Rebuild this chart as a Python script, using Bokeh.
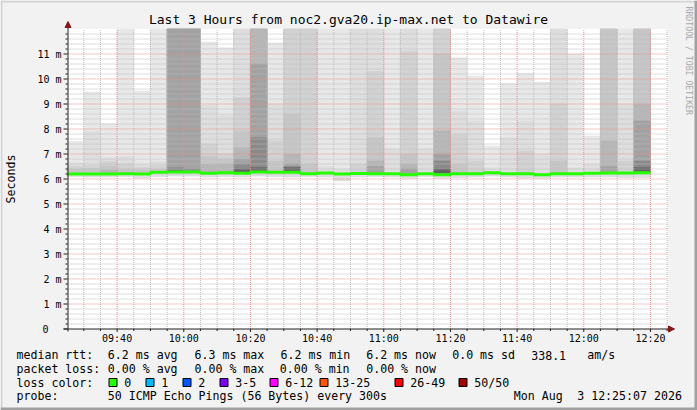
import math
from bokeh.plotting import figure
from bokeh.models import Range1d
from bokeh.core.properties import value
from bokeh.embed import file_html
from bokeh.resources import INLINE

# ---------------- data ----------------
title_text = "Last 3 Hours from noc2.gva20.ip-max.net to Datawire"
graph_start = "09:25:07"

bar_start = ["09:25", "09:30", "09:35", "09:40", "09:45", "09:50", "09:55",
             "10:00", "10:05", "10:10", "10:15", "10:20", "10:25", "10:30",
             "10:35", "10:40", "10:45", "10:50", "10:55", "11:00", "11:05",
             "11:10", "11:15", "11:20", "11:25", "11:30", "11:35", "11:40",
             "11:45", "11:50", "11:55", "12:00", "12:05", "12:10", "12:15"]

median_ms = [6.20, 6.20, 6.20, 6.21, 6.20, 6.27, 6.28, 6.28, 6.23, 6.25,
             6.23, 6.28, 6.27, 6.27, 6.21, 6.24, 6.20, 6.22, 6.21, 6.21,
             6.17, 6.21, 6.17, 6.21, 6.21, 6.25, 6.21, 6.21, 6.17, 6.21,
             6.21, 6.23, 6.24, 6.24, 6.25]

min_ping_ms = [6.10, 6.08, 6.08, 6.10, 6.04, 6.10, 6.12, 6.12, 6.08, 6.10,
               6.08, 6.12, 6.10, 6.08, 6.10, 6.08, 5.93, 6.08, 6.10, 6.08,
               6.04, 6.10, 6.04, 6.06, 6.08, 6.12, 6.08, 6.04, 6.04, 6.08,
               6.08, 6.08, 6.08, 6.06, 6.06]

# smoke bands: upper edge of each band, outermost (max ping) to innermost
smoke_band_1 = [7.50, 9.48, 8.21, 12, 9.52, 12, 12, 12, 11.48, 11.25, 12, 12,
                11.44, 12, 12, 12, 12, 12, 12, 12, 12, 12, 12, 10.85, 10.12,
                7.32, 9.83, 10.23, 9.88, 12, 11.00, 7.72, 12, 12, 12]
smoke_band_2 = [6.65, 7.90, 6.85, 6.90, 6.60, 6.70, 12, 12, 8.95, 8.55, 12, 12,
                8.99, 12, 12, 6.50, 6.40, 12, 12, 7.20, 12, 7.20, 12, 8.72,
                8.32, 6.45, 7.65, 8.32, 6.99, 12, 6.45, 6.59, 12, 8.99, 12]
smoke_band_3 = [6.50, 6.55, 6.70, 6.60, 6.45, 6.55, 12, 12, 7.40, 6.99, 9.25,
                12, 7.52, 12, 12, None, None, 6.60, 10.30, None, 11.10, None,
                12, 7.79, 6.72, None, None, 7.12, None, 9.00, None, None, 12,
                6.72, 12]
smoke_band_4 = [6.40, 6.42, 6.52, 6.40, 6.35, 6.40, 12, 12, 6.90, 6.80, 7.92,
                12, 6.72, 8.60, 6.59, None, None, None, 7.65, None, 6.99, None,
                11.00, 6.59, None, None, None, None, None, 6.72, None, None,
                12, None, 12]
smoke_band_5 = [None, None, 6.35, None, None, None, 12, 12, 6.59, 6.60, 7.25,
                12, None, 6.99, None, None, None, None, 6.72, None, 6.60, None,
                7.92, None, None, None, None, None, None, None, None, None,
                7.52, None, 8.99]
smoke_band_6 = [None, None, None, None, None, None, 12, 12, None, None, 6.80,
                10.60, None, 6.60, None, None, None, None, 6.50, None, 6.40,
                None, 6.99, None, None, None, None, None, None, None, None,
                None, 6.50, None, 8.32]
smoke_band_7 = [None, None, None, None, None, None, 6.45, 6.40, None, None,
                6.60, 7.65, None, 6.50, None, None, None, None, None, None,
                None, None, 6.72, None, None, None, None, None, None, None,
                None, None, None, None, 6.72]
smoke_band_8 = [None, None, None, None, None, None, 6.33, None, None, None,
                6.40, 6.45, None, 6.45, None, None, None, None, None, None,
                None, None, 6.40, None, None, None, None, None, None, None,
                None, None, None, None, 6.45]

x_tick_labels = ["09:40", "10:00", "10:20", "10:40", "11:00", "11:20",
                 "11:40", "12:00", "12:20"]
y_tick_values = [1, 2, 3, 4, 5, 6, 7, 8, 9, 10, 11]
y_tick_labels = ["1 m", "2 m", "3 m", "4 m", "5 m", "6 m", "7 m", "8 m",
                 "9 m", "10 m", "11 m"]
y_zero_label = "0"
y_label = "Seconds"
y_max_ms = 12

row_median = ["median rtt:", "6.2 ms avg", "6.3 ms max", "6.2 ms min",
              "6.2 ms now", "0.0 ms sd", "338.1", "am/s"]
row_loss = ["packet loss:", "0.00 % avg", "0.00 % max", "0.00 % min",
            "0.00 % now"]
loss_color_title = "loss color:"
loss_labels = ["0", "1", "2", "3-5", "6-12", "13-25", "26-49", "50/50"]
loss_colors = ["#26ff00", "#00b8ff", "#0059ff", "#7e00ff", "#ff00ff",
               "#ff5500", "#ff0000", "#a10000"]
row_probe = ["probe:", "50 ICMP Echo Pings (56 Bytes) every 300s", "Mon Aug",
             "3 12:25:07 2026"]
watermark = "RRDTOOL / TOBI OETIKER"

# ---------------- layout ----------------
W, H = 697, 410
FONT = value("DejaVu Sans Mono")
FRAME_L, FRAME_B, FRAME_T = 67, 328.5, 28.5
PX_PER_MIN = 600 / 180.0
PX_PER_MS = 25.0
BAR_MIN = 5
INK = "#202020"
ARROW_COL = "#8a1515"


def to_min(hms):
    parts = [int(v) for v in hms.split(":")]
    while len(parts) < 3:
        parts.append(0)
    return parts[0] * 60 + parts[1] + parts[2] / 60.0


t0 = to_min(graph_start)
t1 = t0 + 180


def X(px):  # page pixel -> data x (minutes of day)
    return t0 + (px - FRAME_L) / PX_PER_MIN


def Y(py):  # page pixel -> data y (ms)
    return (FRAME_B - py) / PX_PER_MS


p = figure(width=W, height=H, x_range=Range1d(X(0), X(W)),
           y_range=Range1d(Y(H), Y(0)), x_axis_type=None, y_axis_type=None,
           output_backend="svg", toolbar_location=None, title=None,
           min_border=0)
p.background_fill_color = "#f2f2f2"
p.border_fill_color = "#f2f2f2"
p.outline_line_color = None

# outer 3d frame of the image
p.quad(left=[X(0), X(0)], right=[X(W), X(2)], top=[Y(0), Y(0)],
       bottom=[Y(2), Y(H)], fill_color="#d4d4d4", line_color=None)
p.quad(left=[X(W - 3), X(0)], right=[X(W), X(W)], top=[Y(0), Y(H - 3)],
       bottom=[Y(H), Y(H)], fill_color="#a0a0a0", line_color=None)

# canvas
p.quad(left=[t0], right=[t1], bottom=[0], top=[y_max_ms],
       fill_color="#ffffff", line_color=None)

# smoke
band_colors = ["#e8e8e8", "#dedede", "#d2d2d2", "#c6c6c6", "#b6b6b6",
               "#a2a2a2", "#8a8a8a", "#626262"]
bands = [smoke_band_1, smoke_band_2, smoke_band_3, smoke_band_4,
         smoke_band_5, smoke_band_6, smoke_band_7, smoke_band_8]
starts = [to_min(s) for s in bar_start]
for k, (tops, col) in enumerate(zip(bands, band_colors)):
    L, R, T, B = [], [], [], []
    for i, t in enumerate(tops):
        if t is None:
            continue
        L.append(starts[i])
        R.append(starts[i] + BAR_MIN)
        T.append(min(t, y_max_ms))
        B.append(min_ping_ms[i] if k < 2 else median_ms[i])
    p.quad(left=L, right=R, top=T, bottom=B, fill_color=col,
           line_color=col, line_width=0.6)

# grid
x_ticks = [to_min(s) for s in x_tick_labels]
x_minor = [to_min("09:30") + 5 * i for i in range(36)]
x_minor = [m for m in x_minor if m not in x_ticks and m <= t1 + 0.01]
y_minor = [i / 5.0 for i in range(1, 60) if i % 5]
GRID_MINOR = "#bdbdbd"
GRID_MAJOR = "#e88e8e"
p.segment(x0=x_minor, x1=x_minor, y0=[0] * len(x_minor),
          y1=[y_max_ms] * len(x_minor), line_color=GRID_MINOR,
          line_dash="1 1", line_width=1)
p.segment(x0=[t0] * len(y_minor), x1=[t1] * len(y_minor), y0=y_minor,
          y1=y_minor, line_color=GRID_MINOR, line_dash="1 1", line_width=1)
p.segment(x0=x_ticks, x1=x_ticks, y0=[0] * len(x_ticks),
          y1=[y_max_ms] * len(x_ticks), line_color=GRID_MAJOR,
          line_dash="1 1", line_width=1)
p.segment(x0=[t0] * len(y_tick_values), x1=[t1] * len(y_tick_values),
          y0=y_tick_values, y1=y_tick_values, line_color=GRID_MAJOR,
          line_dash="1 1", line_width=1)

# median line
mx = starts + [starts[-1] + BAR_MIN]
my = median_ms + [median_ms[-1]]
p.step(mx, my, mode="after", line_color="#26ff00", line_width=3)

# axes lines, ticks, arrows
p.segment(x0=[X(63), X(67.5)], x1=[X(669), X(67.5)], y0=[0, Y(331)],
          y1=[0, Y(25)], line_color=INK, line_width=1)
all_y = [0] + y_tick_values
p.segment(x0=[X(63)] * len(all_y), x1=[t0] * len(all_y), y0=all_y, y1=all_y,
          line_color=INK, line_width=1)
p.segment(x0=[X(65)] * len(y_minor), x1=[t0] * len(y_minor), y0=y_minor,
          y1=y_minor, line_color=INK, line_width=1)
p.segment(x0=x_ticks, x1=x_ticks, y0=[0] * len(x_ticks),
          y1=[Y(331.5)] * len(x_ticks), line_color=INK, line_width=1)
p.segment(x0=x_minor, x1=x_minor, y0=[0] * len(x_minor),
          y1=[Y(330.5)] * len(x_minor), line_color=INK, line_width=1)
p.patch(x=[X(64.5), X(70.5), X(67.5)], y=[Y(27), Y(27), Y(21)],
        fill_color=ARROW_COL, line_color=ARROW_COL)
p.patch(x=[X(668), X(668), X(674)], y=[Y(325.5), Y(331.5), Y(328.5)],
        fill_color=ARROW_COL, line_color=ARROW_COL)

# tick labels
p.text(x=x_ticks, y=[Y(337.5)] * len(x_ticks), text=x_tick_labels,
       text_font=FONT, text_font_size=value("10px"), text_align="center",
       text_baseline="middle", text_color="#000000")
p.text(x=[X(61)] * len(y_tick_values), y=y_tick_values, text=y_tick_labels,
       text_font=FONT, text_font_size=value("10px"), text_align="right",
       text_baseline="middle", text_color="#000000")
p.text(x=[X(48)], y=[0], text=[y_zero_label], text_font=FONT,
       text_font_size=value("10px"), text_align="right",
       text_baseline="middle", text_color="#000000")

# title, axis label, watermark
p.text(x=[X(348)], y=[Y(19)], text=[title_text], text_font=FONT,
       text_font_size=value("13px"), text_align="center",
       text_baseline="middle", text_color="#000000")
p.text(x=[X(10.5)], y=[(Y(FRAME_B) + Y(FRAME_T)) / 2], text=[y_label],
       text_font=FONT, text_font_size=value("11.6px"), text_align="center",
       text_baseline="middle", angle=math.pi / 2, text_color="#000000")
p.text(x=[X(688)], y=[Y(6)], text=[watermark], text_font=FONT,
       text_font_size=value("8.2px"), text_align="left",
       text_baseline="middle", angle=-math.pi / 2, text_color="#a8a8a8")


# legend rows
def row(texts, xs, py):
    p.text(x=[X(v) for v in xs], y=[Y(py)] * len(texts), text=texts,
           text_font=FONT, text_font_size=value("11.6px"),
           text_align="left", text_baseline="middle", text_color="#000000")


row(row_median, [16, 107.3, 194, 280, 365.7, 451.7, 530.7, 586.7], 354.5)
row(row_loss, [16, 107.3, 194, 279.3, 365.7], 368)
row([loss_color_title], [16], 382)
box_x = [108.5, 145.5, 182.5, 219.5, 269.5, 319.5, 394.5, 458.5]
p.quad(left=[X(b) for b in box_x], right=[X(b + 8) for b in box_x],
       top=[Y(378)] * len(box_x), bottom=[Y(386)] * len(box_x),
       fill_color=loss_colors, line_color="#000000", line_width=1)
row(loss_labels, [b + 15.3 for b in box_x], 382)
row(row_probe, [16, 107.3, 513.3, 576.7], 395.5)

open("out.html", "w").write(file_html(p, INLINE))
